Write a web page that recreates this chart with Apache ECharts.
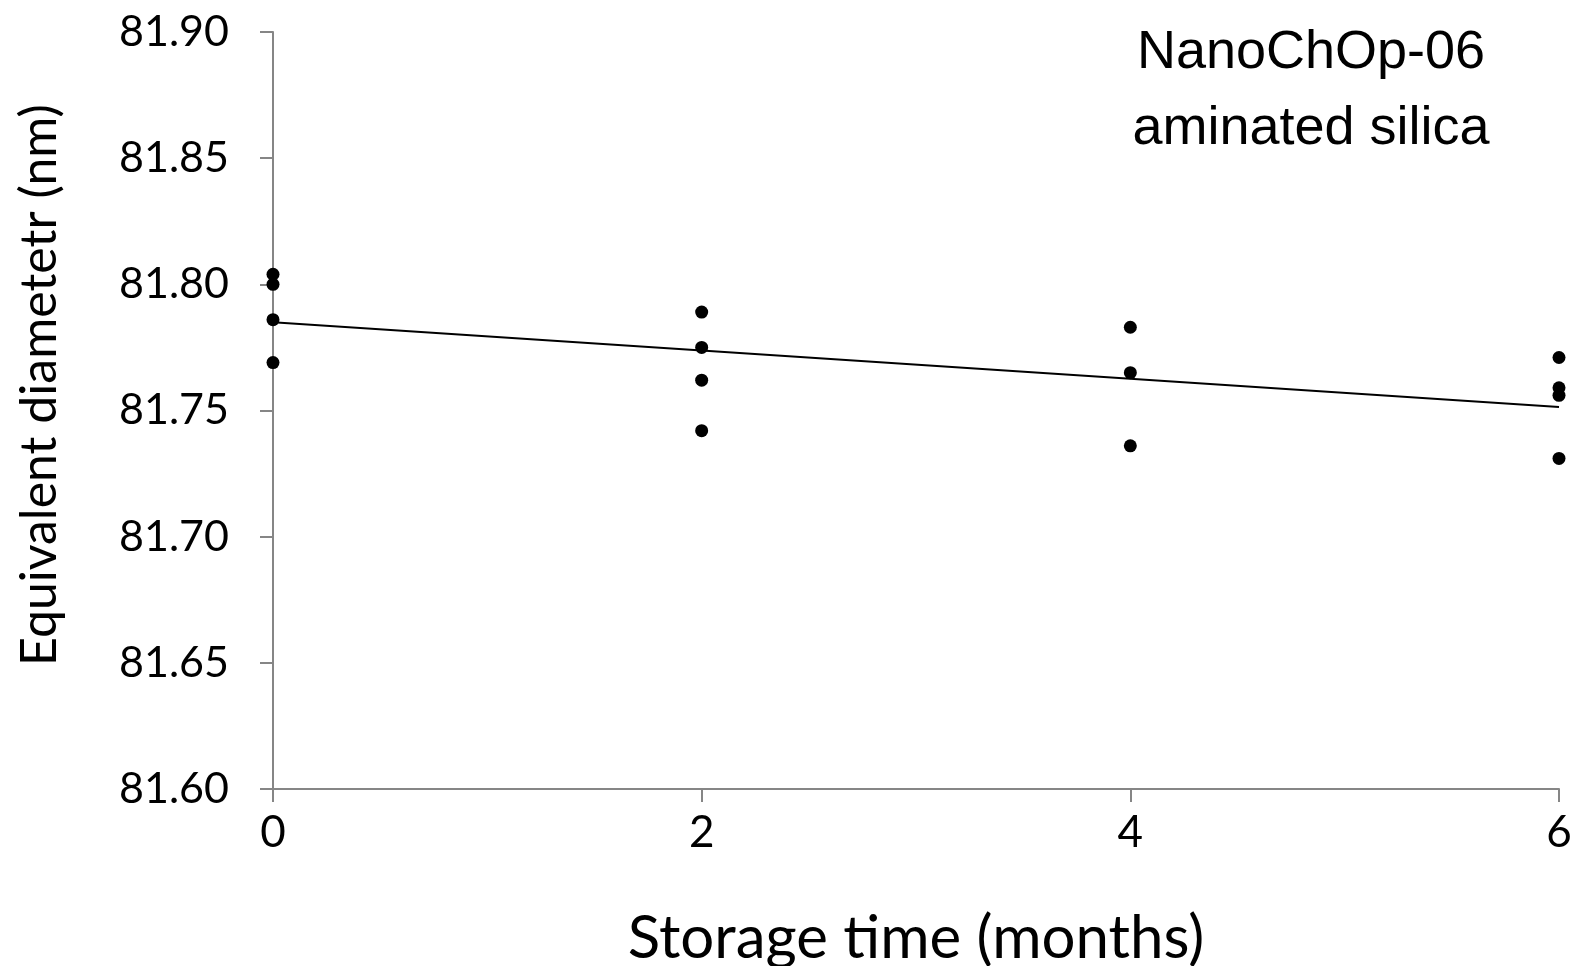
<!DOCTYPE html>
<html>
<head>
<meta charset="utf-8">
<script src="https://cdn.jsdelivr.net/npm/echarts@6/dist/echarts.min.js"></script>
<style>
  html, body { margin: 0; padding: 0; background: #fff; }
  #main { width: 1577px; height: 966px; }
</style>
</head>
<body>
<div id="main"></div>
<script>
// storage time (months) of each measurement
var months = [0, 0, 0, 0, 2, 2, 2, 2, 4, 4, 4, 6, 6, 6, 6];
// equivalent diameter (nm)
var diameters = [81.804, 81.800, 81.786, 81.769,
                 81.789, 81.775, 81.762, 81.742,
                 81.783, 81.765, 81.736,
                 81.771, 81.759, 81.756, 81.731];
var xTicks = [0, 2, 4, 6];
var yTicks = [81.60, 81.65, 81.70, 81.75, 81.80, 81.85, 81.90];

var points = months.map(function (m, i) { return [m, diameters[i]]; });

// linear trendline (least squares)
function linFit(xs, ys) {
  var n = xs.length, sx = 0, sy = 0, sxy = 0, sxx = 0;
  for (var i = 0; i < n; i++) {
    sx += xs[i]; sy += ys[i]; sxy += xs[i] * ys[i]; sxx += xs[i] * xs[i];
  }
  var b = (n * sxy - sx * sy) / (n * sxx - sx * sx);
  var a = (sy - b * sx) / n;
  return { a: a, b: b };
}
var fit = linFit(months, diameters);
var xFirst = xTicks[0], xLast = xTicks[xTicks.length - 1];
var trend = [[xFirst, fit.a + fit.b * xFirst], [xLast, fit.a + fit.b * xLast]];

var chart = echarts.init(document.getElementById('main'));
var axisGray = '#868686';
var option = {
  animation: false,
  grid: { left: 273, right: 18, top: 32, bottom: 177, outerBoundsMode: 'none', containLabel: false },
  graphic: [{
    type: 'text',
    x: 1311, y: 15,
    style: {
      text: 'NanoChOp-06\naminated silica',
      align: 'center',
      verticalAlign: 'top',
      font: '54px "Liberation Sans", Arial, sans-serif',
      lineHeight: 76,
      fill: '#000'
    }
  }, {
    // y axis title
    type: 'text',
    x: 40, y: 385,
    rotation: Math.PI / 2,
    style: {
      text: 'Equivalent diametetr (nm)',
      align: 'center',
      verticalAlign: 'middle',
      font: '50px Lato, sans-serif',
      fill: '#000'
    }
  }],
  xAxis: {
    type: 'value',
    min: xFirst, max: xLast, interval: 2,
    name: 'Storage time (months)',
    nameLocation: 'middle',
    nameGap: 120,
    nameTextStyle: { fontFamily: 'Lato', fontSize: 60, color: '#000' },
    axisLine: { lineStyle: { color: axisGray, width: 2 } },
    axisTick: { show: true, length: 13, lineStyle: { color: axisGray, width: 2 } },
    axisLabel: { fontFamily: 'Lato', fontSize: 44, color: '#000', margin: 22 },
    splitLine: { show: false }
  },
  yAxis: {
    type: 'value',
    min: yTicks[0], max: yTicks[yTicks.length - 1], interval: 0.05,
    axisLine: { show: true, lineStyle: { color: axisGray, width: 2 } },
    axisTick: { show: true, length: 13, lineStyle: { color: axisGray, width: 2 } },
    axisLabel: {
      fontFamily: 'Lato', fontSize: 43, color: '#000', margin: 44,
      formatter: function (v) { return v.toFixed(2); }
    },
    splitLine: { show: false }
  },
  series: [{
    type: 'line',
    data: trend,
    symbol: 'none',
    lineStyle: { color: '#000', width: 2 },
    z: 2
  }, {
    type: 'scatter',
    data: points,
    symbol: 'circle',
    symbolSize: 13,
    itemStyle: { color: '#000', opacity: 1 },
    z: 3
  }]
};
chart.setOption(option);
</script>
</body>
</html>
